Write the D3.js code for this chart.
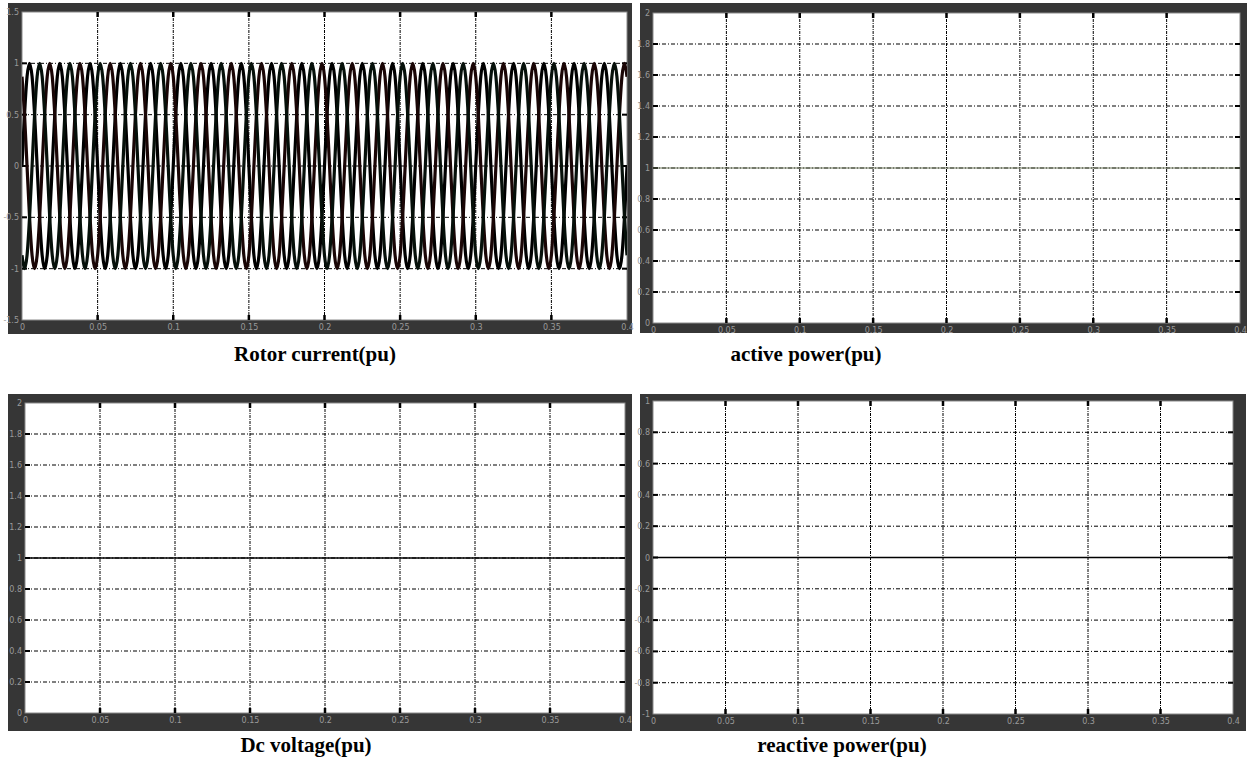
<!DOCTYPE html>
<html>
<head>
<meta charset="utf-8">
<script src="https://cdn.jsdelivr.net/npm/d3@7"></script>
<style>
    body { margin: 0; background: #fff; }
    .tick-label { font-family: "DejaVu Sans", sans-serif; font-size: 8px; fill: #9a9a9a; }
    .caption { font-family: "Liberation Serif", "Times New Roman", serif; font-size: 21px; font-weight: bold; fill: #000; }
</style>
</head>
<body>
<div id="chart"></div>
<script>
// time axis (s)
const timeTicks = [0, 0.05, 0.1, 0.15, 0.2, 0.25, 0.3, 0.35, 0.4];

// y tick values per panel
const rotorTicks = [-1.5, -1, -0.5, 0, 0.5, 1, 1.5];
const activeTicks = [0, 0.2, 0.4, 0.6, 0.8, 1, 1.2, 1.4, 1.6, 1.8, 2];
const dcTicks = [0, 0.2, 0.4, 0.6, 0.8, 1, 1.2, 1.4, 1.6, 1.8, 2];
const reactiveTicks = [-1, -0.8, -0.6, -0.4, -0.2, 0, 0.2, 0.4, 0.6, 0.8, 1];

// flat signals: [time, value]
const activePower = [[0, 1], [0.4, 1]];
const dcVoltage = [[0, 1], [0.4, 1]];
const reactivePower = [[0, 0], [0.4, 0]];

// rotor current: one cycle (12 samples), 50 Hz, 3 phases
const rotorCycle = [0, 0.5, 0.87, 1, 0.87, 0.5, 0, -0.5, -0.87, -1, -0.87, -0.5];
const rotorPeriod = 0.02;
const rotorPhaseShift = [0, 4, 8];   // in samples
const rotorColors = ["#000000", "#1a0606", "#06100a"];

let svg = d3.select("#chart").append("svg")
    .attr("width", 1249)
    .attr("height", 759);

// tile the read cycle over the time window
function rotorSeries(shift) {
    let dt = rotorPeriod / rotorCycle.length;
    let n = Math.round(0.4 / dt);
    let pts = [];
    for (let k = 0; k <= n; k++) {
        pts.push([k * dt, rotorCycle[(k + shift) % rotorCycle.length]]);
    }
    return pts;
}

let panels = [
    {frame: [8, 3, 624, 331], plot: [22, 12, 605, 308], yTicks: rotorTicks,
        series: rotorPhaseShift.map(s => rotorSeries(s)), colors: rotorColors, width: 3.2,
        caption: "Rotor current(pu)", cx: 315, cy: 361},
    {frame: [640, 3, 607, 330], plot: [653, 13, 587, 310], yTicks: activeTicks,
        series: [activePower], colors: ["#6b7559"], width: 1.2,
        caption: "active power(pu)", cx: 806, cy: 361},
    {frame: [8, 394, 624, 337], plot: [25, 403, 600, 310], yTicks: dcTicks,
        series: [dcVoltage], colors: ["#000"], width: 1.5,
        caption: "Dc voltage(pu)", cx: 306, cy: 752},
    {frame: [640, 394, 606, 337], plot: [653, 401, 580, 313], yTicks: reactiveTicks,
        series: [reactivePower], colors: ["#000"], width: 1.5,
        caption: "reactive power(pu)", cx: 842, cy: 752}
];

panels.forEach(p => drawPanel(p));

function drawPanel(p) {
    let [fx, fy, fw, fh] = p.frame;
    let [px, py, pw, ph] = p.plot;

    // dark scope frame
    svg.append("rect")
        .attr("x", fx).attr("y", fy)
        .attr("width", fw).attr("height", fh)
        .attr("fill", "#363636");

    let g = svg.append("g")
        .attr("transform", `translate(${px},${py})`);

    g.append("rect")
        .attr("width", pw).attr("height", ph)
        .attr("fill", "#fff")
        .attr("stroke", "#8a8a8a")
        .attr("stroke-width", 1);

    let x = d3.scaleLinear().domain([0, 0.4]).range([0, pw]);
    let y = d3.scaleLinear().domain(d3.extent(p.yTicks)).range([ph, 0]);

    // grid
    let gridX = timeTicks.slice(1, -1);
    let gridY = p.yTicks.slice(1, -1);

    g.selectAll(".vgrid").data(gridX).enter().append("line")
        .attr("class", "vgrid")
        .attr("x1", d => x(d)).attr("x2", d => x(d))
        .attr("y1", 0).attr("y2", ph)
        .attr("stroke", "#000")
        .attr("stroke-width", 1)
        .attr("stroke-dasharray", "3,1,1,1");

    g.selectAll(".hgrid").data(gridY).enter().append("line")
        .attr("class", "hgrid")
        .attr("x1", 0).attr("x2", pw)
        .attr("y1", d => y(d)).attr("y2", d => y(d))
        .attr("stroke", "#000")
        .attr("stroke-width", 1)
        .attr("stroke-dasharray", "4,2,1,2");

    // short heavy tick marks inside the box
    [0, ph].forEach(yy => {
        g.selectAll(null).data(gridX).enter().append("line")
            .attr("x1", d => x(d)).attr("x2", d => x(d))
            .attr("y1", yy).attr("y2", yy === 0 ? 5 : ph - 5)
            .attr("stroke", "#000").attr("stroke-width", 2.5);
    });
    [0, pw].forEach(xx => {
        g.selectAll(null).data(gridY).enter().append("line")
            .attr("y1", d => y(d)).attr("y2", d => y(d))
            .attr("x1", xx).attr("x2", xx === 0 ? 5 : pw - 5)
            .attr("stroke", "#000").attr("stroke-width", 2);
    });

    // axes (labels only)
    let xAxis = d3.axisBottom(x).tickValues(timeTicks).tickSize(0).tickPadding(4)
        .tickFormat(d => String(d));
    let xg = g.append("g").attr("transform", `translate(0,${ph})`).call(xAxis);
    xg.select(".domain").remove();
    xg.selectAll("text").attr("class", "tick-label");

    let yAxis = d3.axisLeft(y).tickValues(p.yTicks).tickSize(0).tickPadding(3)
        .tickFormat(d => String(d));
    let yg = g.append("g").call(yAxis);
    yg.select(".domain").remove();
    yg.selectAll("text").attr("class", "tick-label");

    // traces
    let line = d3.line()
        .x(d => x(d[0]))
        .y(d => y(d[1]))
        .curve(d3.curveCardinal);

    let clipId = "clip" + px + "_" + py;
    g.append("clipPath").attr("id", clipId)
        .append("rect").attr("width", pw).attr("height", ph);

    g.append("g").attr("clip-path", `url(#${clipId})`)
        .selectAll(".trace").data(p.series).enter().append("path")
        .attr("class", "trace")
        .attr("d", d => line(d))
        .attr("fill", "none")
        .attr("stroke", (d, i) => p.colors[i])
        .attr("stroke-width", p.width);

    svg.append("text")
        .attr("class", "caption")
        .attr("x", p.cx).attr("y", p.cy)
        .attr("text-anchor", "middle")
        .text(p.caption);
}
</script>
</body>
</html>
